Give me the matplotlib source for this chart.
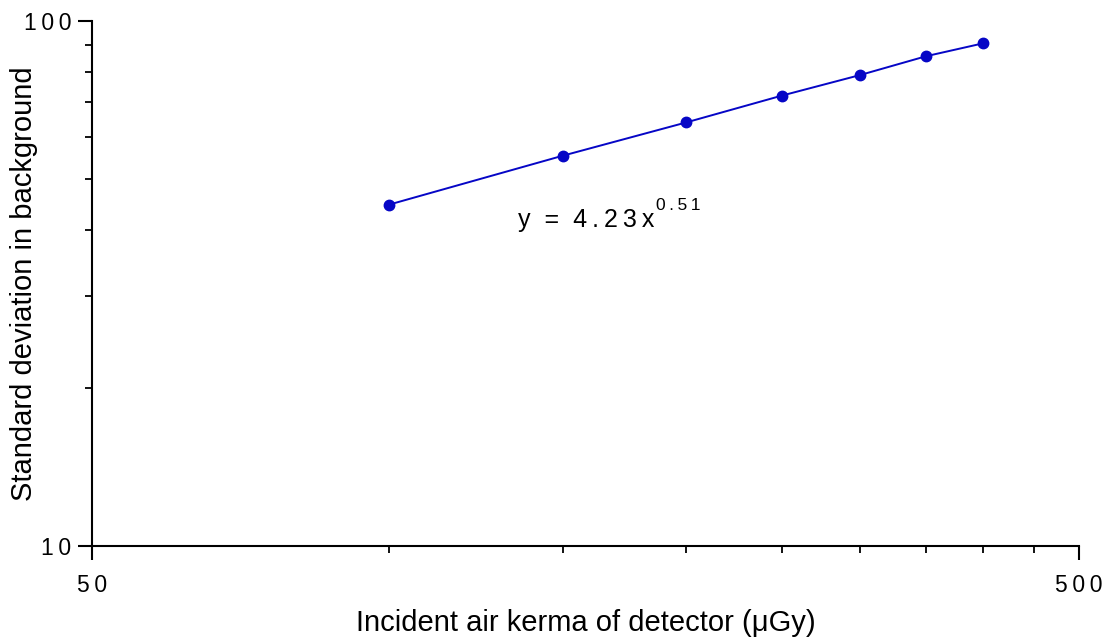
import numpy as np
import matplotlib
matplotlib.use("Agg")
import matplotlib.pyplot as plt
from matplotlib.ticker import FixedLocator, NullFormatter

plt.rcParams['font.family'] = ['Liberation Sans', 'DejaVu Sans']

# air kerma (uGy) and standard deviation in background
kerma = [100, 150, 200, 250, 300, 350, 400]
std_dev = [44.7, 55.4, 64.1, 72.1, 78.9, 85.7, 90.7]

x_major = [50, 500]
x_major_labels = ['5\u20090', '5\u20090\u20090']
x_minor = [100, 150, 200, 250, 300, 350, 400, 450]
y_major = [10, 100]
y_major_labels = ['1\u20090', '1\u20090\u20090']
y_minor = [20, 30, 40, 50, 60, 70, 80, 90]

blue = '#0606c6'

fig = plt.figure(figsize=(11.07, 6.39), dpi=100)
ax = fig.add_axes([0.0831, 0.1455, 0.8916, 0.8216])

ax.plot(kerma, std_dev, color=blue, lw=1.4, marker='o', ms=7.5,
        markerfacecolor=blue, markeredgecolor=blue, clip_on=False)

ax.set_xscale('log')
ax.set_yscale('log')
ax.set_xlim(50, 500)
ax.set_ylim(10, 100)

ax.xaxis.set_major_locator(FixedLocator(x_major))
ax.xaxis.set_minor_locator(FixedLocator(x_minor))
ax.yaxis.set_major_locator(FixedLocator(y_major))
ax.yaxis.set_minor_locator(FixedLocator(y_minor))
ax.set_xticklabels(x_major_labels)
ax.set_yticklabels(y_major_labels)
ax.xaxis.set_minor_formatter(NullFormatter())
ax.yaxis.set_minor_formatter(NullFormatter())

ax.tick_params(which='major', direction='out', length=10, width=1.5,
               labelsize=16.5, colors='black', pad=5)
ax.tick_params(axis='x', which='major', pad=10)
ax.tick_params(which='minor', direction='out', length=5, width=1.3)

for side in ['top', 'right']:
    ax.spines[side].set_visible(False)
for side in ['left', 'bottom']:
    ax.spines[side].set_linewidth(1.5)

ax.set_xlabel('Incident air kerma of detector (\u03bcGy)', fontsize=21)
ax.xaxis.set_label_coords(0.5, -0.12)
ax.set_ylabel('Standard deviation in background', fontsize=21, va='baseline')
ax.yaxis.set_label_coords(-0.0608, 0.5)

# fit equation with superscript exponent
eq = ax.text(135, 40.5, 'y  =  4\u2009.\u20092\u20093\u2009x', fontsize=18,
             ha='left', va='baseline')
ax.annotate('0\u2009.\u20095\u20091', xy=(1, 1), xycoords=eq,
            xytext=(1, 7), textcoords='offset points',
            fontsize=12.5, ha='left', va='top')

fig.savefig('out.png', dpi=100)
